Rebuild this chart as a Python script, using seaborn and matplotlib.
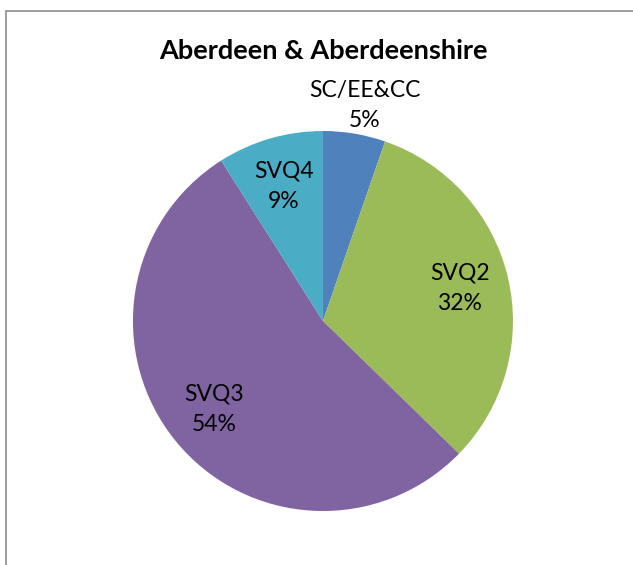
import matplotlib.pyplot as plt
import matplotlib.patches as mpatches
import seaborn as sns

# Chart data.
categories = ["SC/EE&CC", "SVQ2", "SVQ3", "SVQ4"]
shares = [5.3, 32.0, 53.7, 9.0]
slice_colors = ["#4F81BD", "#9BBB59", "#8064A2", "#4BACC6"]
title = "Aberdeen & Aberdeenshire"


def main() -> None:
    sns.set_theme(style="white")
    plt.rcParams["font.family"] = ["Lato", "DejaVu Sans"]

    fig = plt.figure(figsize=(6.33, 5.65), dpi=100)
    ax = fig.add_axes([0.150, 0.0283, 0.7204, 0.8071])

    labels = [f"{c}\n{round(v)}%" for c, v in zip(categories, shares)]
    wedges, texts = ax.pie(
        shares,
        labels=labels,
        colors=sns.color_palette(slice_colors),
        startangle=90,
        counterclock=False,
        labeldistance=0.74,
        wedgeprops={"linewidth": 0},
        textprops={"fontsize": 16.5, "color": "black", "linespacing": 1.55},
    )
    ax.set_xlim(-1.2, 1.2)
    ax.set_ylim(-1.2, 1.2)

    # Small first slice has its label outside the pie.
    for i, t in enumerate(texts):
        t.set_ha("center")
        t.set_va("center")
        if i == 0:
            x, y = t.get_position()
            t.set_position((x / 0.74 * 1.15 + 0.03, y / 0.74 * 1.15))

    fig.text(0.511, 0.9097, title, ha="center", va="center",
             fontsize=19.5, fontweight="bold", color="black")

    # Chart area border.
    frame = mpatches.Rectangle((6 / 633, -0.05), 1.0, 554 / 565 + 0.05,
                               transform=fig.transFigure, fill=False,
                               edgecolor="#8c8c8c", linewidth=1.2, clip_on=False)
    fig.patches.append(frame)

    fig.savefig("out.png", dpi=100)
    plt.close(fig)


if __name__ == "__main__":
    main()
